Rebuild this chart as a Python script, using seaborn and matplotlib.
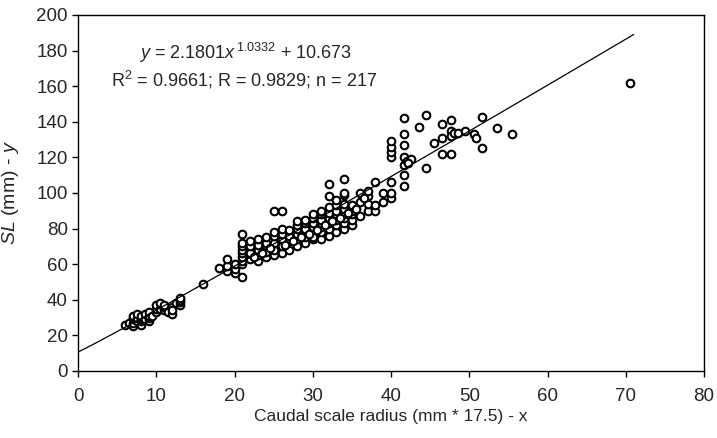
import numpy as np
import pandas as pd
import matplotlib
matplotlib.use("Agg")
import matplotlib.pyplot as plt
import seaborn as sns

# scale radius (x) and standard length (y)
radius = [6, 6.5, 7, 7, 7, 7, 7, 7.5, 7.5, 7.5, 8, 8, 8, 8, 8, 8.5, 8.5, 9, 9, 9, 9, 9.5,
          10, 10, 10, 10.5, 10.5, 11, 11, 11, 11.5, 12, 12, 12, 12.5, 13, 13, 13, 13,
          16,
          18, 19, 19, 19, 20, 20, 20, 21, 21, 21, 21, 21, 21, 21, 21, 21,
          22, 22, 22, 22, 23, 23, 23, 23, 23, 24, 24, 24, 24, 24, 25, 25, 25, 25, 25, 25,
          26, 26, 26, 26, 26, 26, 27, 27, 27, 27, 28, 28, 28, 28, 28, 28,
          29, 29, 29, 29, 29, 29, 30, 30, 30, 30, 30, 30, 30,
          30, 31, 31, 31, 31, 31, 31, 31, 32, 32, 32, 32, 32, 32, 32, 32,
          33, 33, 33, 33, 33, 33, 33, 34, 34, 34, 34, 34, 34, 34, 34, 34,
          35, 35, 35, 35, 35, 36, 36, 36, 37, 37, 37, 37, 38, 38, 38, 39, 39,
          40, 40, 40, 40, 40, 40, 40,
          31.5, 32.5, 33.5, 30.5, 29.5, 28.5, 27.5, 26.5, 24.5, 23.5, 22.5, 35.5, 34.5, 36.5,
          41.6, 41.6, 41.6, 41.6, 41.6, 41.6, 41.6, 42, 42.5, 42.2, 43.6, 44.5, 44.5,
          45.5, 46.5, 46.5, 47.6, 47.6, 47.6, 48, 48.5, 46.5, 47.6, 49.5, 50.6, 50.8,
          51.6, 51.6, 53.5, 55.5, 70.5]
length = [26, 27, 25, 27, 29, 30, 31, 28, 30, 32, 26, 28, 29, 30, 31, 29, 32, 28, 30, 31, 33, 31,
          33, 35, 37, 35, 38, 34, 36, 37, 33, 32, 36, 34, 38, 37, 39, 40, 41,
          49,
          58, 56, 59, 63, 55, 57, 60, 53, 60, 62, 64, 66, 68, 70, 72, 77,
          63, 66, 70, 73, 62, 65, 68, 71, 74, 64, 67, 70, 72, 75, 65, 68, 72, 76, 78, 90,
          66, 70, 74, 77, 80, 90, 68, 73, 76, 79, 70, 74, 77, 80, 82, 84,
          72, 75, 78, 80, 83, 85, 74, 76, 79, 81, 83, 86, 88,
          75, 74, 78, 81, 83, 85, 88, 90, 76, 80, 83, 86, 89, 92, 98, 105,
          78, 82, 85, 88, 90, 93, 96, 80, 83, 86, 88, 91, 94, 99, 100, 108,
          82, 85, 88, 90, 93, 95, 100, 87, 90, 94, 98, 101, 90, 93, 106, 95, 100,
          97, 100, 106, 120, 123, 126, 129,
          82, 84, 86, 79, 77, 75, 73, 71, 69, 66, 64, 91, 89, 97,
          142, 133, 127, 120, 115.5, 110, 103.7, 118, 119, 116.6, 137, 144, 114,
          128, 130.7, 139, 141, 134.6, 132, 133.5, 133.5, 121.7, 121.7, 134.6, 133, 131,
          142.5, 125, 136.5, 133, 161.7]

# fitted power curve shown on the chart
coef_a = 2.1801
coef_b = 1.0332
coef_c = 10.673
fit_x = np.linspace(0, 71, 200)
fit_y = coef_a * fit_x ** coef_b + coef_c

df = pd.DataFrame({"radius": radius, "length": length})
fit_df = pd.DataFrame({"radius": fit_x, "length": fit_y})

sns.set_style("ticks")
plt.rcParams["font.family"] = ["Liberation Sans", "DejaVu Sans"]
plt.rcParams["mathtext.fontset"] = "custom"
plt.rcParams["mathtext.rm"] = "Liberation Sans"
plt.rcParams["mathtext.it"] = "Liberation Sans:italic"

fig, ax = plt.subplots(figsize=(7.17, 4.38), dpi=100)
fig.subplots_adjust(left=0.109, right=0.982, top=0.966, bottom=0.153)

sns.lineplot(data=fit_df, x="radius", y="length", color="black", linewidth=0.9, ax=ax)
sns.scatterplot(data=df, x="radius", y="length", marker="o", s=30,
                facecolor="white", edgecolor="black", linewidth=1.5, ax=ax)

ax.set_xlim(0, 80)
ax.set_ylim(0, 200)
ax.set_xticks(range(0, 81, 10))
ax.set_yticks(range(0, 201, 20))
ax.tick_params(labelsize=13.5, length=4, width=1, color="black", direction="out")
ax.tick_params(axis="x", pad=8)
for s in ax.spines.values():
    s.set_color("black")
    s.set_linewidth(1)

ax.set_xlabel("Caudal scale radius (mm * 17.5) - x", fontsize=12.5, labelpad=3)
ax.set_ylabel(r"$\mathit{SL}$ (mm) - $\mathit{y}$", fontsize=14)
ax.yaxis.set_label_coords(-0.092, 0.5)

ax.text(0.268, 0.893, r"$\mathit{y}$ = 2.1801$\mathit{x}^{\,1.0332}$ + 10.673",
        transform=ax.transAxes, ha="center", va="center", fontsize=13)
ax.text(0.266, 0.818, r"R$^2$ = 0.9661; R = 0.9829; n = 217",
        transform=ax.transAxes, ha="center", va="center", fontsize=13)

fig.savefig("out.png", dpi=100)
